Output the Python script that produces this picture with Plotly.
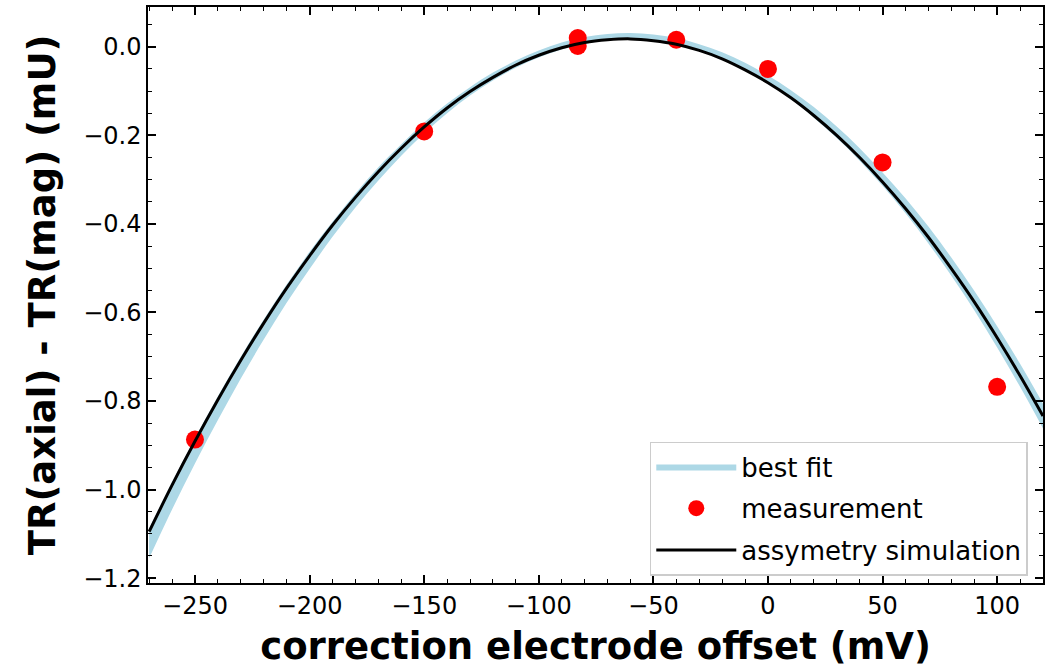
import plotly.graph_objects as go

# measurement data
meas_x = [-250, -150, -83, -83, -40, 0, 50, 100]
meas_y = [-0.887, -0.191, 0.020, 0.002, 0.016, -0.050, -0.261, -0.768]
meas_err = [0.012, 0.012, 0.012, 0.012, 0.012, 0.012, 0.012, 0.012]

# curve sample positions
curve_x = [-270, -260, -250, -240, -230, -220, -210, -200, -190, -180, -170, -160,
           -150, -140, -130, -120, -110, -100, -90, -80, -70, -60, -50, -40, -30,
           -20, -10, 0, 10, 20, 30, 40, 50, 60, 70, 80, 90, 100, 110, 120]

# assymetry simulation
sim_y = [-1.095, -0.990, -0.891, -0.797, -0.708, -0.624, -0.545, -0.472, -0.403, -0.340,
         -0.282, -0.229, -0.181, -0.138, -0.101, -0.069, -0.041, -0.019, -0.002, 0.010,
         0.016, 0.018, 0.014, 0.006, -0.008, -0.027, -0.052, -0.081, -0.115, -0.155,
         -0.200, -0.250, -0.305, -0.365, -0.430, -0.501, -0.576, -0.657, -0.743, -0.834]

# best fit band
fit_lo = [-1.155, -1.045, -0.941, -0.843, -0.749, -0.661, -0.578, -0.502, -0.429, -0.363,
          -0.302, -0.246, -0.195, -0.150, -0.110, -0.076, -0.047, -0.024, -0.006, 0.007,
          0.015, 0.017, 0.014, 0.005, -0.009, -0.028, -0.053, -0.083, -0.118, -0.160,
          -0.206, -0.257, -0.314, -0.376, -0.444, -0.517, -0.595, -0.679, -0.768, -0.862]
fit_hi = [-1.088, -0.983, -0.884, -0.789, -0.700, -0.616, -0.537, -0.463, -0.395, -0.331,
          -0.272, -0.220, -0.171, -0.128, -0.091, -0.058, -0.031, -0.008, 0.010, 0.022,
          0.029, 0.031, 0.028, 0.020, 0.006, -0.012, -0.036, -0.065, -0.098, -0.136,
          -0.180, -0.229, -0.284, -0.342, -0.406, -0.476, -0.551, -0.631, -0.716, -0.806]

band_color = "#add8e6"
font_family = "DejaVu Sans"

fig = go.Figure()
fig.add_trace(go.Scatter(x=curve_x, y=fit_lo, mode="lines", line=dict(width=0, color=band_color, shape="spline"),
                         showlegend=False, hoverinfo="skip", legendgroup="fit"))
fig.add_trace(go.Scatter(x=curve_x, y=fit_hi, mode="lines", line=dict(width=0, color=band_color, shape="spline"),
                         fill="tonexty", fillcolor=band_color, name="best fit", legendgroup="fit"))
fig.add_trace(go.Scatter(x=meas_x, y=meas_y, mode="markers", name="measurement", legendgroup="meas",
                         marker=dict(color="red", size=18),
                         error_y=dict(type="data", array=meas_err, color="red", thickness=2, width=0)))
fig.add_trace(go.Scatter(x=curve_x, y=sim_y, mode="lines", name="assymetry simulation", legendgroup="sim",
                         line=dict(color="black", width=3, shape="spline")))

axis_common = dict(
    showline=True, linecolor="black", linewidth=1.5, mirror="allticks",
    ticks="inside", ticklen=8, tickwidth=1.5, tickcolor="black",
    showgrid=False, zeroline=False,
    tickfont=dict(family=font_family, size=24, color="black"),
)

fig.update_xaxes(range=[-270.5, 120], dtick=50, tick0=0,
                 minor=dict(ticks="inside", ticklen=4, tickwidth=1.2, tickcolor="black", dtick=10, tick0=0),
                 title=dict(text="<b>correction electrode offset (mV)</b>",
                            font=dict(family=font_family, size=37, color="black"), standoff=16),
                 **axis_common)
fig.update_yaxes(range=[-1.211, 0.09], dtick=0.2, tick0=0, tickformat=".1f",
                 minor=dict(ticks="inside", ticklen=4, tickwidth=1.2, tickcolor="black", dtick=0.05, tick0=0),
                 title=dict(text="<b>TR(axial) - TR(mag) (mU)</b>",
                            font=dict(family=font_family, size=37, color="black"), standoff=16),
                 **axis_common)

fig.update_layout(
    width=1051, height=668,
    margin=dict(l=148, r=8, t=5, b=85),
    plot_bgcolor="white", paper_bgcolor="white",
    font=dict(family=font_family, color="black"),
    legend=dict(x=0.983, y=0.013, xanchor="right", yanchor="bottom",
                traceorder="grouped",
                bgcolor="rgba(255,255,255,0.8)", bordercolor="#cccccc", borderwidth=1.5,
                font=dict(family=font_family, size=26, color="black"),
                itemwidth=80, tracegroupgap=5),
)

fig.write_html("out.html", config={"displayModeBar": False},
               post_script="document.body.style.margin='0';document.body.style.overflow='hidden';")
